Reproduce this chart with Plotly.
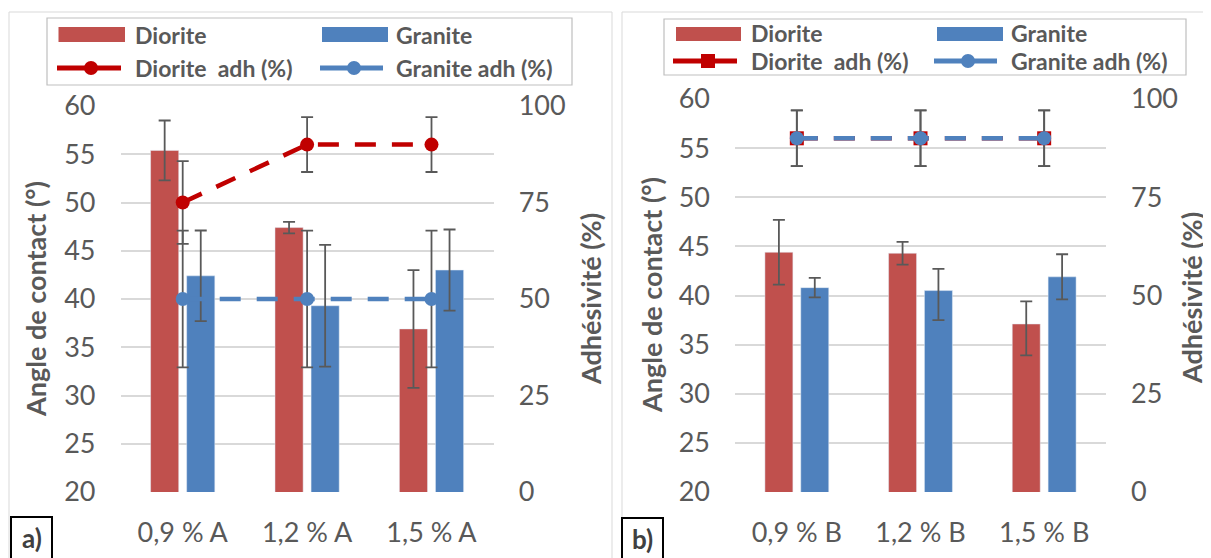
import plotly.graph_objects as go

# ---------------- data ----------------
categories_a = ["0,9 % A", "1,2 % A", "1,5 % A"]
categories_b = ["0,9 % B", "1,2 % B", "1,5 % B"]

diorite_a = [55.4, 47.4, 36.9]
diorite_a_err = [3.1, 0.6, 6.1]
granite_a = [42.4, 39.3, 43.0]
granite_a_err = [4.7, 6.3, 4.2]
diorite_adh_a = [75, 90, 90]
diorite_adh_a_err = [10.7, 7.1, 7.1]
granite_adh_a = [50, 50, 50]
granite_adh_a_err = [17.7, 17.7, 17.7]

diorite_b = [44.4, 44.3, 37.1]
diorite_b_err_plus = [3.3, 1.15, 2.3]
diorite_b_err_minus = [3.3, 1.15, 3.2]
granite_b = [40.8, 40.5, 41.9]
granite_b_err_plus = [1.0, 2.2, 2.3]
granite_b_err_minus = [1.0, 3.0, 2.3]
diorite_adh_b = [90, 90, 90]
diorite_adh_b_err = [7.1, 7.1, 7.1]
granite_adh_b = [90, 90, 90]
granite_adh_b_err = [7.1, 7.1, 7.1]

angle_ticks = [20, 25, 30, 35, 40, 45, 50, 55, 60]
adh_ticks = [0, 25, 50, 75, 100]

# ---------------- style ----------------
OFF = 8  # page body margin
W, H = 1211 - OFF, 558 - OFF
FONT = "Lato, Carlito, Calibri, sans-serif"
GRAY = "#595959"
C_DB = "#C0504D"
C_GB = "#4F81BD"
C_DL = "#C00000"
C_GL = "#4F81BD"
ERR = dict(color=GRAY, thickness=1.8, width=6)
DASH = "21px,16px"


def px(x):
    return (x - OFF) / W


def py(y):
    return 1 - (y - OFF) / H


def err(arr, arrminus=None):
    d = dict(type="data", array=arr, visible=True, **ERR)
    if arrminus is not None:
        d["symmetric"] = False
        d["arrayminus"] = arrminus
    return d


fig = go.Figure()

# ---- panel a ----
fig.add_trace(go.Bar(x=categories_a, y=diorite_a, name="Diorite", marker_color=C_DB,
                     error_y=err(diorite_a_err), xaxis="x", yaxis="y", showlegend=False))
fig.add_trace(go.Bar(x=categories_a, y=granite_a, name="Granite", marker_color=C_GB,
                     error_y=err(granite_a_err), xaxis="x", yaxis="y", showlegend=False))
fig.add_trace(go.Scatter(x=categories_a, y=diorite_adh_a, name="Diorite  adh (%)", mode="lines+markers",
                         line=dict(color=C_DL, width=4.5, dash=DASH),
                         marker=dict(color=C_DL, size=14, symbol="circle"),
                         error_y=err(diorite_adh_a_err), xaxis="x", yaxis="y2", showlegend=False))
fig.add_trace(go.Scatter(x=categories_a, y=granite_adh_a, name="Granite adh (%)", mode="lines+markers",
                         line=dict(color=C_GL, width=4.5, dash=DASH),
                         marker=dict(color=C_GL, size=14, symbol="circle"),
                         error_y=err(granite_adh_a_err), xaxis="x", yaxis="y2", showlegend=False))

# ---- panel b ----
fig.add_trace(go.Bar(x=categories_b, y=diorite_b, name="Diorite", marker_color=C_DB,
                     error_y=err(diorite_b_err_plus, diorite_b_err_minus), xaxis="x2", yaxis="y3", showlegend=False))
fig.add_trace(go.Bar(x=categories_b, y=granite_b, name="Granite", marker_color=C_GB,
                     error_y=err(granite_b_err_plus, granite_b_err_minus), xaxis="x2", yaxis="y3", showlegend=False))
fig.add_trace(go.Scatter(x=categories_b, y=diorite_adh_b, name="Diorite  adh (%)", mode="lines+markers",
                         line=dict(color=C_DL, width=4.5, dash=DASH),
                         marker=dict(color=C_DL, size=14, symbol="square"),
                         error_y=err(diorite_adh_b_err), xaxis="x2", yaxis="y4", showlegend=False))
fig.add_trace(go.Scatter(x=categories_b, y=granite_adh_b, name="Granite adh (%)", mode="lines+markers",
                         line=dict(color=C_GL, width=4.5, dash=DASH),
                         marker=dict(color=C_GL, size=14, symbol="circle"),
                         error_y=err(granite_adh_b_err), xaxis="x2", yaxis="y4", showlegend=False))

tickfont = dict(family=FONT, size=27, color=GRAY)

xcommon = dict(type="category", showgrid=False, showline=False, zeroline=False, ticks="",
               tickfont=tickfont, ticklabelstandoff=22, fixedrange=True, automargin=False)
ycommon = dict(showline=False, zeroline=False, ticks="", tickfont=tickfont, fixedrange=True,
               automargin=False)

fig.update_layout(
    width=W, height=H,
    autosize=False,
    margin=dict(l=0, r=0, t=0, b=0, pad=0, autoexpand=False),
    paper_bgcolor="white", plot_bgcolor="white",
    barmode="group", bargap=0.42, bargroupgap=0.22,
    showlegend=False,
    font=dict(family=FONT, color=GRAY),
    xaxis=dict(domain=[px(120.5), px(493.7)], anchor="y", **xcommon),
    yaxis=dict(domain=[py(492), py(106)], anchor="x", range=[20, 60], tickvals=angle_ticks,
               showgrid=True, gridcolor="#D9D9D9", gridwidth=1.5, ticklabelstandoff=24, **ycommon),
    yaxis2=dict(overlaying="y", side="right", anchor="x", range=[0, 100], tickvals=adh_ticks,
                showgrid=False, ticklabelstandoff=24, **ycommon),
    xaxis2=dict(domain=[px(735), px(1106)], anchor="y3", **xcommon),
    yaxis3=dict(domain=[py(492), py(99)], anchor="x2", range=[20, 60], tickvals=angle_ticks,
                showgrid=True, gridcolor="#D9D9D9", gridwidth=1.5, ticklabelstandoff=24, **ycommon),
    yaxis4=dict(overlaying="y3", side="right", anchor="x2", range=[0, 100], tickvals=adh_ticks,
                showgrid=False, ticklabelstandoff=24, **ycommon),
)

shapes = []
annotations = []


def rect(x0, y0, x1, y1, line_color=None, lw=1, fill=None):
    shapes.append(dict(type="rect", xref="paper", yref="paper",
                       x0=px(x0), x1=px(x1), y0=py(y1), y1=py(y0),
                       line=dict(color=line_color or "rgba(0,0,0,0)", width=lw if line_color else 0),
                       fillcolor=fill or "rgba(0,0,0,0)", layer="above"))


def hline(x0, x1, y, color, lw):
    shapes.append(dict(type="line", xref="paper", yref="paper",
                       x0=px(x0), x1=px(x1), y0=py(y), y1=py(y),
                       line=dict(color=color, width=lw), layer="above"))


def circle(cx, cy, d, color):
    shapes.append(dict(type="circle", xref="paper", yref="paper",
                       x0=px(cx - d / 2), x1=px(cx + d / 2), y0=py(cy + d / 2), y1=py(cy - d / 2),
                       line=dict(width=0), fillcolor=color, layer="above"))


def text(x, y, s, size, bold=True, color=GRAY, xanchor="left", angle=0):
    annotations.append(dict(xref="paper", yref="paper", x=px(x), y=py(y), text=s,
                            showarrow=False, xanchor=xanchor, yanchor="middle", textangle=angle,
                            font=dict(family=FONT, size=size, color=color,
                                      weight="bold" if bold else "normal")))


# panel frames
rect(9, 12, 612, 575, line_color="#D9D9D9", lw=1)
rect(622, 12, 1225, 575, line_color="#D9D9D9", lw=1)

# ---- legend a ----
rect(47, 18, 572, 85, line_color="#BFBFBF", lw=1.2, fill="white")
rect(58.5, 27, 125, 42, fill=C_DB)
text(133, 35, "Diorite", 23)
rect(322, 27, 388, 42, fill=C_GB)
text(394, 35, "Granite", 23)
hline(57, 121, 68, C_DL, 5)
circle(91, 68, 14, C_DL)
text(133, 68, "Diorite  adh (%)", 23)
hline(320, 383, 68, C_GL, 5)
circle(354, 68, 14, C_GL)
text(394, 68, "Granite adh (%)", 23)

# ---- legend b ----
rect(664, 19, 1186, 75, line_color="#BFBFBF", lw=1.2, fill="white")
rect(676, 27, 741, 41, fill=C_DB)
text(749, 33, "Diorite", 23)
rect(937, 27, 1003, 41, fill=C_GB)
text(1009, 33, "Granite", 23)
hline(673, 737, 61, C_DL, 5)
rect(701, 54, 715, 68, fill=C_DL)
text(749, 61, "Diorite  adh (%)", 23)
hline(934, 997, 61, C_GL, 5)
circle(968, 61, 14, C_GL)
text(1009, 61, "Granite adh (%)", 23)

# axis titles
text(35, 299, "Angle de contact (°)", 27, xanchor="center", angle=-90)
text(590, 299, "Adhésivité (%)", 27, xanchor="center", angle=-90)
text(651, 295, "Angle de contact (°)", 27, xanchor="center", angle=-90)
text(1191, 298, "Adhésivité (%)", 27, xanchor="center", angle=-90)

# panel labels
rect(11, 517, 52, 575, line_color="#000000", lw=2, fill="white")
text(31.5, 538, "a)", 26, color="#404040", xanchor="center")
rect(622, 518, 663, 575, line_color="#000000", lw=2, fill="white")
text(642.5, 539, "b)", 26, color="#404040", xanchor="center")

fig.update_layout(shapes=shapes, annotations=annotations)

fig.write_html("out.html")
